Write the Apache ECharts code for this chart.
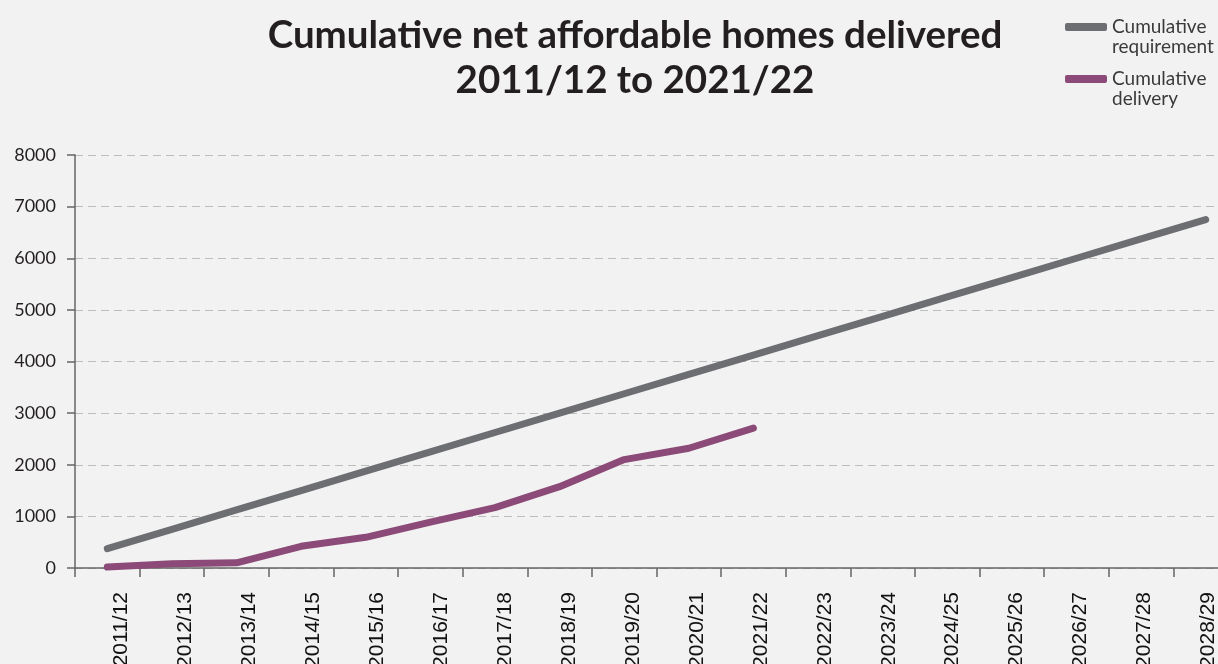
<!DOCTYPE html>
<html>
<head>
<meta charset="utf-8">
<script src="https://cdn.jsdelivr.net/npm/echarts@6/dist/echarts.min.js"></script>
<style>
html,body{margin:0;padding:0;background:#f2f2f2;}
#chart{width:1218px;height:664px;}
</style>
</head>
<body>
<div id="chart"></div>
<script>
const categories = ['2011/12','2012/13','2013/14','2014/15','2015/16','2016/17','2017/18','2018/19','2019/20','2020/21','2021/22','2022/23','2023/24','2024/25','2025/26','2026/27','2027/28','2028/29'];
const requirement = [375,750,1125,1500,1875,2250,2625,3000,3375,3750,4125,4500,4875,5250,5625,6000,6375,6750];
const delivery = [20,80,100,420,595,890,1170,1575,2100,2320,2710];
const yTicks = {min:0, max:8000, interval:1000};
const titleText = 'Cumulative net affordable homes delivered\n2011/12 to 2021/22';

// per-label rich styles (label offset drifts slightly across the axis in the original)
const labelRich = {};
for (let i = 0; i < 18; i++) {
  const shift = 14 - 0.66 * i;
  labelRich['r' + i] = {fontFamily:'Liberation Sans', fontSize:21, color:'#111',
    padding:[Math.max(0, 2 * shift), 0, Math.max(0, -2 * shift), 0]};
}

const chart = echarts.init(document.getElementById('chart'), null, {renderer:'canvas'});
chart.setOption({
  backgroundColor:'#f2f2f2',
  animation:false,
  title:{
    text:titleText,
    left:630, top:8, textAlign:'center',
    textStyle:{fontFamily:'Lato', fontWeight:'bold', fontSize:38.5, lineHeight:45, color:'#231f20'}
  },
  legend:{
    orient:'vertical', left:1060, top:-8,
    itemWidth:42, itemHeight:8, itemGap:-8,
    icon:'roundRect',
    formatter: function(n){ return '\n' + n.replace(' ', '\n'); },
    textStyle:{fontFamily:'Lato', fontSize:19, lineHeight:20, color:'#3a3a3a'}
  },
  grid:{left:75, right:-20, top:155, bottom:96, containLabel:false, outerBoundsMode:'none'},
  xAxis:{
    type:'category', data:categories, boundaryGap:true,
    axisLine:{lineStyle:{color:'#666', width:1.5}},
    axisTick:{show:true, length:9, lineStyle:{color:'#666', width:1.5}},
    axisLabel:{rotate:90, margin:24, interval:0, color:'#111',
      fontFamily:'Liberation Sans', fontSize:21,
      formatter:function(v, i){ return '{r' + i + '|' + v + '}'; },
      rich:labelRich}
  },
  yAxis:{
    type:'value', min:yTicks.min, max:yTicks.max, interval:yTicks.interval,
    axisLine:{show:true, lineStyle:{color:'#666', width:1.5}},
    axisTick:{show:true, length:8, lineStyle:{color:'#666', width:1.5}},
    axisLabel:{margin:19, color:'#231f20', fontFamily:'Lato', fontSize:18,
      formatter:function(v){ return String(v); }},
    splitLine:{show:true, lineStyle:{color:'#bdbdbd', type:[8,5], width:1}}
  },
  series:[
    {name:'Cumulative requirement', type:'line', data:requirement, symbol:'none',
     lineStyle:{width:7, color:'#6d6e72', cap:'round', join:'round'}, itemStyle:{color:'#6d6e72'}},
    {name:'Cumulative delivery', type:'line', data:delivery, symbol:'none',
     lineStyle:{width:7, color:'#8b4a77', cap:'round', join:'round'}, itemStyle:{color:'#8b4a77'}}
  ]
});
</script>
</body>
</html>
